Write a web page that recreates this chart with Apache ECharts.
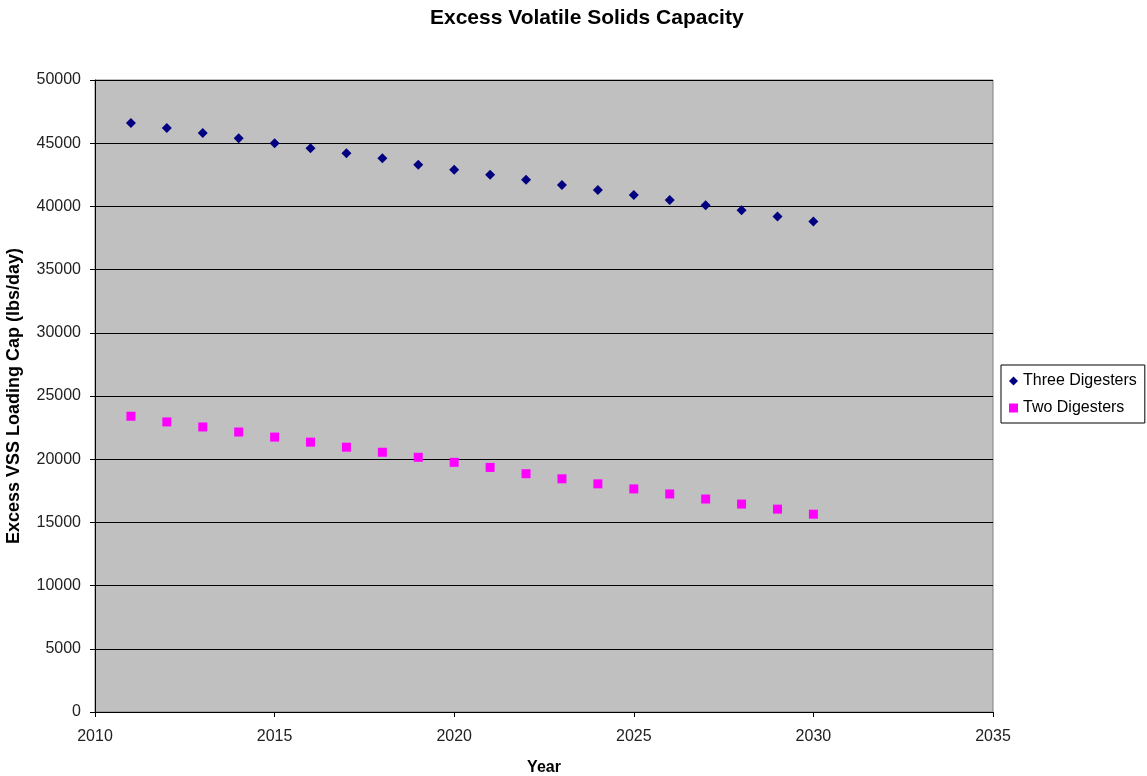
<!DOCTYPE html>
<html>
<head>
<meta charset="utf-8">
<script src="https://cdn.jsdelivr.net/npm/echarts@6/dist/echarts.min.js"></script>
<style>
  html, body { margin: 0; padding: 0; background: #fff; }
  #chart { width: 1147px; height: 776px; }
</style>
</head>
<body>
<div id="chart"></div>
<script>
// Years and excess VSS loading capacity (lbs/day)
const years = [2011, 2012, 2013, 2014, 2015, 2016, 2017, 2018, 2019, 2020,
               2021, 2022, 2023, 2024, 2025, 2026, 2027, 2028, 2029, 2030];
const threeDigesters = [46600, 46200, 45800, 45400, 45000, 44600, 44200, 43800, 43300, 42900,
                        42500, 42100, 41700, 41300, 40900, 40500, 40100, 39700, 39200, 38800];
const twoDigesters = [23400, 22950, 22550, 22150, 21750, 21350, 20950, 20550, 20150, 19750,
                      19350, 18850, 18450, 18050, 17650, 17250, 16850, 16450, 16050, 15650];

const font = 'Liberation Sans, Arial, sans-serif';
const pairs = (xs, ys) => xs.map((x, i) => [x, ys[i]]);

const chart = echarts.init(document.getElementById('chart'));
chart.setOption({
  backgroundColor: '#ffffff',
  animation: false,
  title: {
    text: 'Excess Volatile Solids Capacity',
    left: 425,
    top: 3,
    textStyle: { fontFamily: font, fontSize: 21, fontWeight: 'bold', color: '#000' }
  },
  legend: {
    orient: 'vertical',
    left: 1001,
    top: 365,
    padding: [8, 8, 7, 8],
    itemGap: 11,
    itemWidth: 9,
    itemHeight: 9,
    backgroundColor: '#ffffff',
    borderColor: '#000',
    borderWidth: 1,
    borderRadius: 0,
    textStyle: { fontFamily: font, fontSize: 16, color: '#000' },
    data: [
      { name: 'Three Digesters', icon: 'diamond' },
      { name: 'Two Digesters', icon: 'rect' }
    ]
  },
  grid: {
    left: 95, top: 80, right: 154, bottom: 64,
    outerBoundsMode: 'none',
    containLabel: false,
    show: true,
    backgroundColor: '#C0C0C0',
    borderColor: '#808080',
    borderWidth: 1
  },
  xAxis: {
    type: 'value',
    min: 2010, max: 2035, interval: 5,
    name: 'Year',
    nameLocation: 'middle',
    nameGap: 48,
    nameTextStyle: { fontFamily: font, fontSize: 16, fontWeight: 'bold', color: '#000' },
    axisLine: { show: true, onZero: false, lineStyle: { color: '#000', width: 1 } },
    axisTick: { show: true, inside: false, length: 5, lineStyle: { color: '#000' } },
    axisLabel: { fontFamily: font, fontSize: 16, color: '#222', margin: 17,
                 formatter: v => String(v) },
    splitLine: { show: false }
  },
  yAxis: {
    type: 'value',
    min: 0, max: 50000, interval: 5000,
    name: 'Excess VSS Loading Cap (lbs/day)',
    nameLocation: 'middle',
    nameGap: 72,
    nameRotate: 90,
    nameTextStyle: { fontFamily: font, fontSize: 18, fontWeight: 'bold', color: '#000' },
    axisLine: { show: true, lineStyle: { color: '#000', width: 1 } },
    axisTick: { show: true, inside: false, length: 5, lineStyle: { color: '#000' } },
    axisLabel: { fontFamily: font, fontSize: 16, color: '#222', margin: 14,
                 formatter: v => String(v) },
    splitLine: { show: true, lineStyle: { color: '#000', width: 1 } }
  },
  series: [
    {
      name: 'Three Digesters',
      type: 'scatter',
      symbol: 'diamond',
      symbolSize: 10,
      itemStyle: { color: '#000080', opacity: 1 },
      data: pairs(years, threeDigesters)
    },
    {
      name: 'Two Digesters',
      type: 'scatter',
      symbol: 'rect',
      symbolSize: 9,
      itemStyle: { color: '#FF00FF', opacity: 1 },
      data: pairs(years, twoDigesters)
    }
  ]
});
</script>
</body>
</html>
